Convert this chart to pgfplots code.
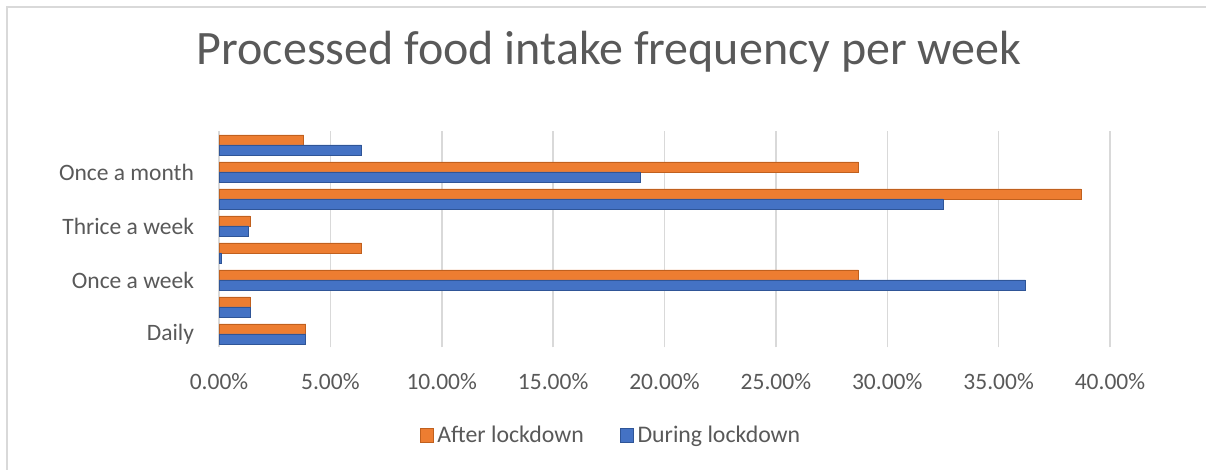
\documentclass[border=0pt]{standalone}
\usepackage{pgfplots}
\pgfplotsset{compat=1.18}
\usepackage{fontspec}
\setmainfont{Carlito}
\definecolor{txt}{HTML}{595959}
\definecolor{orng}{HTML}{ED7D31}
\definecolor{orngd}{HTML}{C0601E}
\definecolor{blu}{HTML}{4472C4}
\definecolor{blud}{HTML}{2F5597}
\definecolor{grd}{HTML}{D9D9D9}
\begin{document}
\begin{tikzpicture}
\useasboundingbox (0,0) rectangle (603pt,235pt);
\fill[white] (0,0) rectangle (603pt,235pt);
\draw[grd, line width=0.9pt] (3.5pt,0) -- (3.5pt,231.5pt) -- (603pt,231.5pt);
\node[txt, font=\fontsize{24}{28}\selectfont] at (304.5pt,209pt) {Processed food intake frequency per week};
\begin{axis}[
  at={(109.5pt,61.25pt)}, anchor=south west,
  scale only axis, width=445.5pt, height=108pt,
  xmin=0, xmax=40, ymin=-0.5, ymax=7.5,
  xbar, bar width=5pt,
  axis line style={draw=none},
  major tick length=0pt,
  xtick={0,5,...,40},
  xticklabels={0.00\%,5.00\%,10.00\%,15.00\%,20.00\%,25.00\%,30.00\%,35.00\%,40.00\%},
  ytick={0,2,4,6},
  yticklabels={Daily,Once a week,Thrice a week,Once a month},
  xmajorgrids, major grid style={grd, line width=0.75pt},
  tick label style={txt, font=\fontsize{11.75}{14}\selectfont},
  xticklabel style={anchor=center, yshift=-17pt},
  yticklabel style={anchor=east, xshift=-9pt},
  legend columns=2,
  legend style={draw=none, fill=none, at={(0.441,-0.408)}, anchor=center,
    font=\fontsize{11.9}{14}\selectfont, text=txt,
    /tikz/every even column/.append style={column sep=16pt},
    inner sep=0pt},
  legend image code/.code={\fill[#1] (0pt,-3.5pt) rectangle (6.5pt,3.5pt);},
]
\addplot[fill=orng, draw=orngd, line width=0.4pt, bar shift=2.5pt] coordinates {
 (3.9,0) (1.4,1) (28.7,2) (6.4,3) (1.4,4) (38.7,5) (28.7,6) (3.8,7)};
\addlegendentry{After lockdown}
\addplot[fill=blu, draw=blud, line width=0.4pt, bar shift=-2.5pt] coordinates {
 (3.9,0) (1.4,1) (36.2,2) (0.1,3) (1.3,4) (32.5,5) (18.9,6) (6.4,7)};
\addlegendentry{During lockdown}
\end{axis}
\end{tikzpicture}
\end{document}
